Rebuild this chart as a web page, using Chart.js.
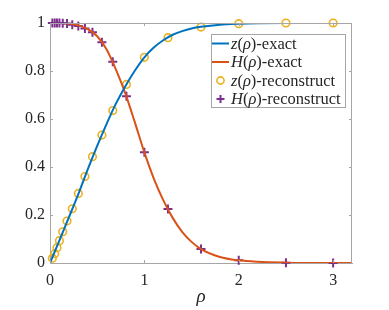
<!DOCTYPE html>
<html>
<head>
<meta charset="utf-8">
<script src="https://cdn.jsdelivr.net/npm/chart.js@4"></script>
<style>
  html, body { margin: 0; padding: 0; background: #fff; }
  #wrap { width: 389px; height: 310px; }
</style>
</head>
<body>
<div id="wrap"><canvas id="c" width="389" height="310"></canvas></div>
<script>
// sample points of the reconstruction
const rho = [0.025, 0.05, 0.074, 0.1, 0.135, 0.18, 0.236, 0.3, 0.37, 0.45, 0.55, 0.665, 0.81, 1.0, 1.25, 1.6, 2.0, 2.5, 3.0];
const zRec = [0.02, 0.039, 0.064, 0.093, 0.13, 0.175, 0.226, 0.29, 0.36, 0.443, 0.533, 0.635, 0.744, 0.857, 0.939, 0.983, 0.997, 1.0, 1.0];
const hRec = [1.0, 1.0, 1.0, 1.0, 0.999, 0.998, 0.993, 0.988, 0.977, 0.961, 0.92, 0.839, 0.695, 0.461, 0.225, 0.058, 0.011, 0.001, 0.0];

// exact curves
const rhoExact = [0, 0.1, 0.2, 0.3, 0.4, 0.5, 0.6, 0.7, 0.8, 0.9, 1.0, 1.1, 1.2, 1.3, 1.4, 1.5, 1.6, 1.8, 2.0, 2.2, 2.5, 2.8, 3.2];
const zExact = [0, 0.094, 0.19, 0.287, 0.39, 0.488, 0.58, 0.665, 0.738, 0.802, 0.857, 0.898, 0.928, 0.951, 0.966, 0.977, 0.984, 0.993, 0.997, 0.999, 1.0, 1.0, 1.0];
const hExact = [1.0, 1.0, 0.998, 0.99, 0.974, 0.945, 0.89, 0.805, 0.705, 0.585, 0.461, 0.352, 0.262, 0.188, 0.13, 0.088, 0.058, 0.025, 0.011, 0.005, 0.0015, 0.0004, 0];

const xTicks = [0, 1, 2, 3];
const yTicks = [0, 0.2, 0.4, 0.6, 0.8, 1];

const BLUE = '#0072BD', ORANGE = '#D95319', YELLOW = '#EDB120', PURPLE = '#7E2F8E';
const AXIS = '#a6a6a6';
const SERIF = '"Liberation Serif", "DejaVu Serif", serif';

const pts = (xs, ys) => xs.map((x, i) => ({ x: x, y: ys[i] }));

// box, inward ticks and the legend, drawn like matlab does
const boxPlugin = {
  id: 'box',
  afterDraw(chart) {
    const { ctx, chartArea: a, scales } = chart;
    ctx.save();
    ctx.strokeStyle = AXIS;
    ctx.lineWidth = 1;
    ctx.beginPath();
    ctx.moveTo(a.left, a.top + 0.5); ctx.lineTo(a.right, a.top + 0.5);
    ctx.moveTo(a.right - 0.5, a.top); ctx.lineTo(a.right - 0.5, a.bottom);
    const tl = 3;
    xTicks.forEach(t => {
      const px = Math.round(scales.x.getPixelForValue(t)) + 0.5;
      ctx.moveTo(px, a.bottom); ctx.lineTo(px, a.bottom - tl);
      ctx.moveTo(px, a.top); ctx.lineTo(px, a.top + tl);
    });
    yTicks.forEach(t => {
      const py = Math.round(scales.y.getPixelForValue(t)) + 0.5;
      ctx.moveTo(a.left, py); ctx.lineTo(a.left + tl, py);
      ctx.moveTo(a.right, py); ctx.lineTo(a.right - tl, py);
    });
    ctx.stroke();

    // legend
    const lx = 211, ly = 34, lw = 134, lh = 73;
    ctx.fillStyle = '#fff';
    ctx.fillRect(lx, ly, lw, lh);
    ctx.strokeStyle = AXIS;
    ctx.strokeRect(lx + 0.5, ly + 0.5, lw, lh);
    const rows = [
      { kind: 'line', color: BLUE, v: 'z', tail: '-exact' },
      { kind: 'line', color: ORANGE, v: 'H', tail: '-exact' },
      { kind: 'circle', color: YELLOW, v: 'z', tail: '-reconstruct' },
      { kind: 'cross', color: PURPLE, v: 'H', tail: '-reconstruct' }
    ];
    const rowY = [43.5, 62, 80.5, 99];
    rows.forEach((r, i) => {
      const y = rowY[i];
      ctx.strokeStyle = r.color;
      ctx.lineWidth = 2;
      ctx.beginPath();
      if (r.kind === 'line') {
        ctx.moveTo(212, y); ctx.lineTo(229, y);
      } else if (r.kind === 'circle') {
        ctx.lineWidth = 1.6;
        ctx.arc(220.5, y, 3.6, 0, Math.PI * 2);
      } else {
        ctx.moveTo(216.5, y); ctx.lineTo(224.5, y);
        ctx.moveTo(220.5, y - 4); ctx.lineTo(220.5, y + 4);
      }
      ctx.stroke();
      let x = 231;
      ctx.fillStyle = '#262626';
      ctx.textBaseline = 'middle';
      const parts = [[r.v, 'italic'], ['(', 'normal'], ['\u03C1', 'italic'], [')' + r.tail, 'normal']];
      parts.forEach(([s, st]) => {
        ctx.font = st + ' 16.5px ' + SERIF;
        ctx.fillText(s, x, y + 1);
        x += ctx.measureText(s).width;
      });
    });
    ctx.restore();
  }
};

new Chart(document.getElementById('c'), {
  type: 'line',
  data: {
    datasets: [
      { data: pts(rhoExact, zExact), borderColor: BLUE, borderWidth: 2, pointRadius: 0, cubicInterpolationMode: 'monotone', fill: false },
      { data: pts(rhoExact, hExact), borderColor: ORANGE, borderWidth: 2, pointRadius: 0, cubicInterpolationMode: 'monotone', fill: false },
      { data: pts(rho, zRec), showLine: false, clip: false, pointStyle: 'circle', pointRadius: 3.8, pointBorderWidth: 1.6, pointBorderColor: YELLOW, pointBackgroundColor: 'rgba(0,0,0,0)' },
      { data: pts(rho, hRec), showLine: false, clip: false, pointStyle: 'cross', pointRadius: 4.5, pointBorderWidth: 2, pointBorderColor: PURPLE, pointBackgroundColor: PURPLE }
    ]
  },
  plugins: [boxPlugin],
  options: {
    responsive: false,
    animation: false,
    events: [],
    layout: { padding: { top: 23, right: 37, left: 0, bottom: 0 } },
    plugins: { legend: { display: false }, tooltip: { enabled: false } },
    scales: {
      x: {
        type: 'linear', min: 0, max: 3.2,
        afterBuildTicks: s => { s.ticks = xTicks.map(v => ({ value: v })); },
        afterFit: s => { s.height = 47; },
        grid: { display: false, drawTicks: false },
        border: { display: true, color: AXIS },
        ticks: { padding: 8, color: '#262626', font: { family: SERIF, size: 16 }, callback: v => String(v) },
        title: { display: true, text: '\u03C1', color: '#262626', font: { family: SERIF, size: 19, style: 'italic' }, padding: { top: 0, bottom: 2 } }
      },
      y: {
        min: 0, max: 1,
        afterBuildTicks: s => { s.ticks = yTicks.map(v => ({ value: v })); },
        afterFit: s => { s.width = 50; },
        grid: { display: false, drawTicks: false },
        border: { display: true, color: AXIS },
        ticks: { padding: 5, color: '#262626', font: { family: SERIF, size: 16 }, callback: v => String(+v.toFixed(1)) }
      }
    }
  }
});
</script>
</body>
</html>
